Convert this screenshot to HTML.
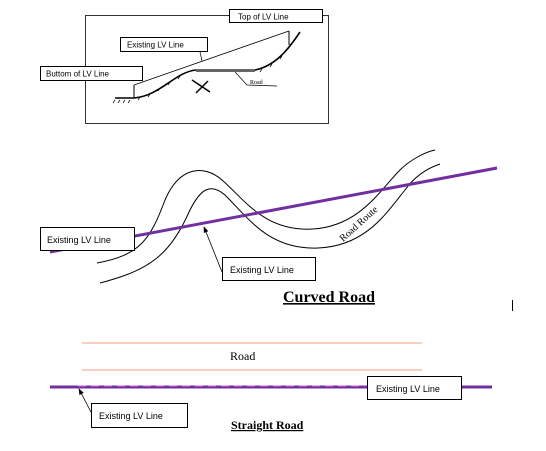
<!DOCTYPE html>
<html><head><style>body{margin:0;background:#fff}svg{display:block}</style></head><body>
<svg width="546" height="451" xmlns="http://www.w3.org/2000/svg" font-family="Liberation Sans, sans-serif">
<defs><marker id="ah" markerWidth="8" markerHeight="8" refX="7" refY="4" orient="auto"><path d="M0,1 L8,4 L0,7z" fill="#000"/></marker></defs>
<rect x="85.5" y="15.5" width="243" height="108" fill="none" stroke="#333" stroke-width="1"/>
<path d="M115,98 L134,98 C160,96 175,72 196,70 L255,70 C275,66 288,50 300,32" fill="none" stroke="#000" stroke-width="1.6"/>
<path d="M115,100 l-2,3 M120,100 l-2,3 M125,100 l-2,3 M130,100 l-2,3 M140,97 l-2,3 M150,94 l-2,3 M160,88 l-2,3 M170,82 l-2,3 M180,76 l-2,3 M262,69 l-2,3 M272,64 l-2,3 M282,56 l-2,3 M290,46 l-2,3 M296,38 l-2,3" stroke="#000" stroke-width="0.7"/>
<rect x="196" y="69" width="59" height="3" fill="#666"/>
<line x1="134" y1="98" x2="134" y2="85" stroke="#000"/>
<line x1="289" y1="45" x2="289" y2="31" stroke="#000"/>
<line x1="134" y1="85" x2="289" y2="31" stroke="#000" stroke-width="0.8"/>
<path d="M192,80 L210,92 M196,93 L208,81" stroke="#000" stroke-width="1.5"/>
<path d="M235,72 L247,85 L277,86" fill="none" stroke="#000" stroke-width="0.7"/>
<text x="250" y="84" font-size="6" font-family="Liberation Serif, serif">Road</text>
<line x1="200" y1="52" x2="202" y2="61" stroke="#000" stroke-width="0.7"/>
<rect x="229.5" y="9.5" width="93" height="13" fill="#fff" stroke="#000"/>
<text x="238" y="19.5" font-size="8">Top of LV Line</text>
<rect x="120.5" y="37.5" width="87" height="14" fill="#fff" stroke="#000"/>
<text x="127" y="47.5" font-size="8">Existing LV Line</text>
<rect x="40.5" y="66.5" width="102" height="14" fill="#fff" stroke="#000"/>
<text x="46" y="76.5" font-size="8">Buttom of LV Line</text>
<path d="M97,263 C140,255 150,240 165,200 C180,165 205,165 222,180 C245,200 265,232 313,229 C360,226 380,190 400,170 C410,160 425,152 435,150" fill="none" stroke="#000" stroke-width="1"/>
<path d="M100,283 C150,270 170,255 190,210 C200,190 210,182 225,195 C250,220 270,250 318,248 C365,246 385,215 405,190 C415,176 428,168 440,164" fill="none" stroke="#000" stroke-width="1"/>
<line x1="50" y1="252" x2="497" y2="168" stroke="#7030a0" stroke-width="3"/>
<text x="0" y="0" font-size="10" font-family="Liberation Serif, serif" transform="translate(343,242) rotate(-42)">Road Route</text>
<rect x="40.5" y="227.5" width="94" height="23" fill="#fff" stroke="#000"/>
<text x="47" y="243" font-size="9">Existing LV Line</text>
<line x1="222" y1="272" x2="204" y2="227" stroke="#000" stroke-width="0.8" marker-end="url(#ah)"/>
<rect x="222.5" y="257.5" width="93" height="23" fill="#fff" stroke="#000"/>
<text x="230" y="273" font-size="9">Existing LV Line</text>
<text x="283" y="302" font-size="16" font-weight="bold" font-family="Liberation Serif, serif" text-decoration="underline">Curved Road</text>
<line x1="512.5" y1="300" x2="512.5" y2="311" stroke="#000"/>
<line x1="82" y1="343" x2="422" y2="343" stroke="#f0a080" stroke-width="1"/>
<line x1="82" y1="370" x2="422" y2="370" stroke="#f0a080" stroke-width="1"/>
<text x="230" y="360" font-size="12" font-family="Liberation Serif, serif">Road</text>
<line x1="50" y1="387" x2="492" y2="387" stroke="#7030a0" stroke-width="3"/>
<line x1="78" y1="386" x2="365" y2="386" stroke="#e060e0" stroke-width="1" stroke-dasharray="8,5"/>
<rect x="367.5" y="376.5" width="94" height="23" fill="#fff" stroke="#000"/>
<text x="376" y="392" font-size="9">Existing LV Line</text>
<line x1="92" y1="414" x2="79" y2="389" stroke="#000" stroke-width="0.8" marker-end="url(#ah)"/>
<rect x="91.5" y="403.5" width="96" height="24" fill="#fff" stroke="#000"/>
<text x="99" y="419" font-size="9">Existing LV Line</text>
<text x="231" y="429" font-size="12" font-weight="bold" font-family="Liberation Serif, serif" text-decoration="underline">Straight Road</text>
</svg>
</body></html>
